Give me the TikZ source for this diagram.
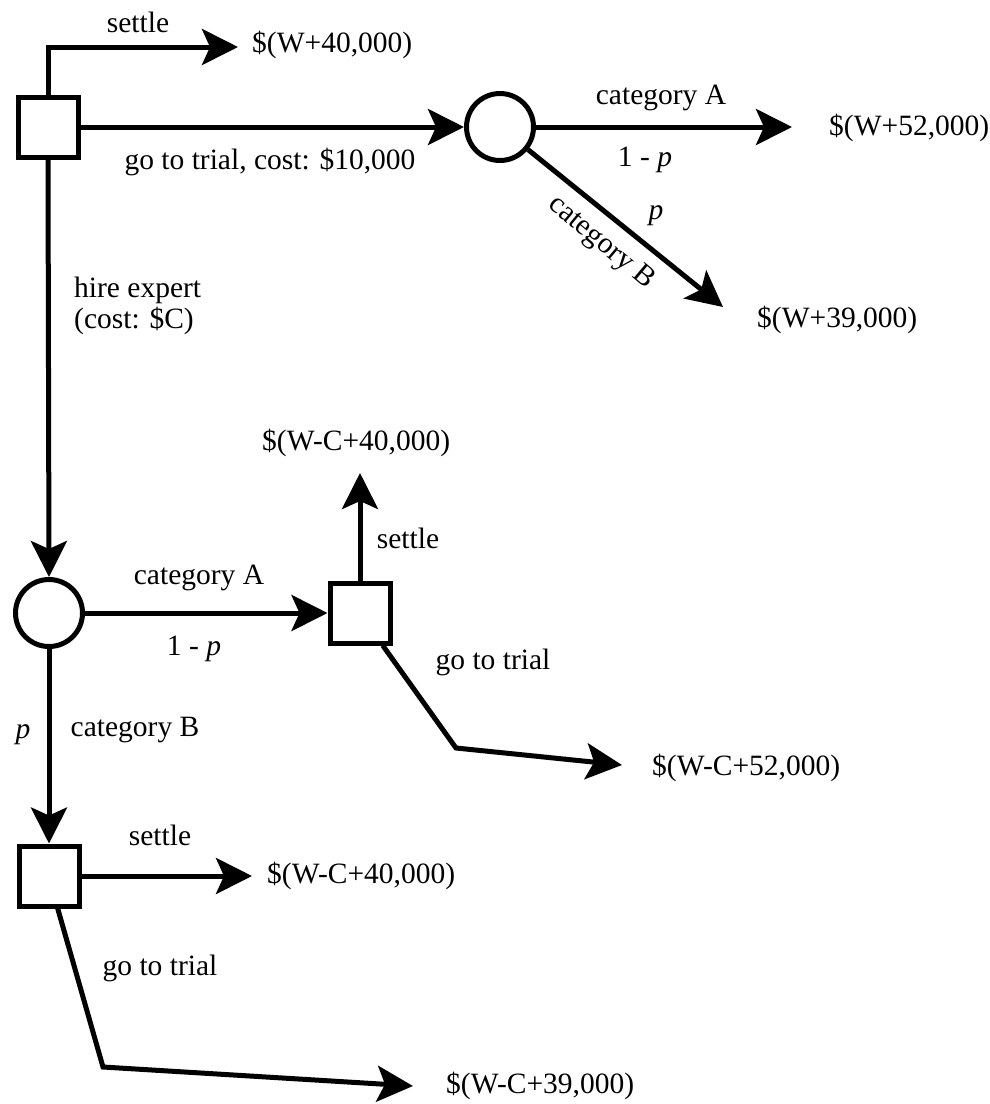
\documentclass[tikz,border=0pt]{standalone}
\usepackage{fontspec}
\setmainfont{Liberation Serif}
\usetikzlibrary{arrows.meta}

\begin{document}
\begin{tikzpicture}[x=1pt,y=-1pt,
  decision/.style={draw,line width=5pt,minimum size=60pt,inner sep=0pt},
  chance/.style={draw,circle,line width=5pt,minimum size=67pt,inner sep=0pt},
  branch/.style={line width=5pt,-{Stealth[length=36pt,width=36pt,inset=8pt]}},
  txt/.style={inner sep=0pt,font=\fontsize{29.5}{31}\selectfont},
  pay/.style={txt,anchor=west}]
\useasboundingbox (0,0) rectangle (990,1104);
% decision and chance nodes
\node[decision] (d1) at (48,127) {};
\node[chance]   (c1) at (500,127) {};
\node[chance]   (c2) at (49,613) {};
\node[decision] (d2) at (360,613) {};
\node[decision] (d3) at (49,876) {};
% payoffs
\node[pay] (p1) at (252,45) {\$(W+40,000)};
\node[pay] (p2) at (829,128) {\$(W+52,000)};
\node[pay] (p3) at (757,320) {\$(W+39,000)};
\node[pay] (p4) at (262,443) {\$(W-C+40,000)};
\node[pay] (p5) at (652,768) {\$(W-C+52,000)};
\node[pay] (p6) at (267,876) {\$(W-C+40,000)};
\node[pay] (p7) at (446,1086) {\$(W-C+39,000)};
% arrow ends
\coordinate (t1) at (238,47);
\coordinate (t2) at (792,127);
\coordinate (t3) at (723,307);
\coordinate (t4) at (360,473);
\coordinate (k5) at (456,748);
\coordinate (t5) at (622,765);
\coordinate (t6) at (252,876);
\coordinate (k7) at (103,1067);
\coordinate (t7) at (413,1086);
% branches
\draw[branch] (d1.north) |- (t1);
\draw[branch] (d1.east) -- (c1.west);
\draw[branch] (c1.east) -- (t2);
\draw[branch] (c1) -- (t3);
\draw[branch] (d1.south) -- (c2.north);
\draw[branch] (c2.east) -- (d2.west);
\draw[branch] (d2.north) -- (t4);
\draw[branch] (d2.-55) -- (k5) -- (t5);
\draw[branch] (c2.south) -- (d3.north);
\draw[branch] (d3.east) -- (t6);
\draw[branch] (d3.-75) -- (k7) -- (t7);
% branch labels
\node[txt] (l1) at (138,22) {settle};
\node[txt] (l2) at (270,162) {go to trial, cost: \$10,000};
\node[txt] (l3) at (661,98) {category A};
\node[txt] (l4) at (645,160) {1 - \textit{p}};
\node[txt] (l5) at (656,216) {\textit{p}};
\node[txt,rotate=-40] (l6) at (601,243) {category B};
\node[txt,anchor=west,align=left] (l7) at (74,306) {hire expert\\(cost: \$C)};
\node[txt] (l8) at (408,538) {settle};
\node[txt] (l9) at (199,578) {category A};
\node[txt] (l10) at (194,649) {1 - \textit{p}};
\node[txt] (l11) at (493,662) {go to trial};
\node[txt] (l12) at (23,735) {\textit{p}};
\node[txt] (l13) at (135,730) {category B};
\node[txt] (l14) at (160,835) {settle};
\node[txt] (l15) at (160,968) {go to trial};
\end{tikzpicture}
\end{document}
